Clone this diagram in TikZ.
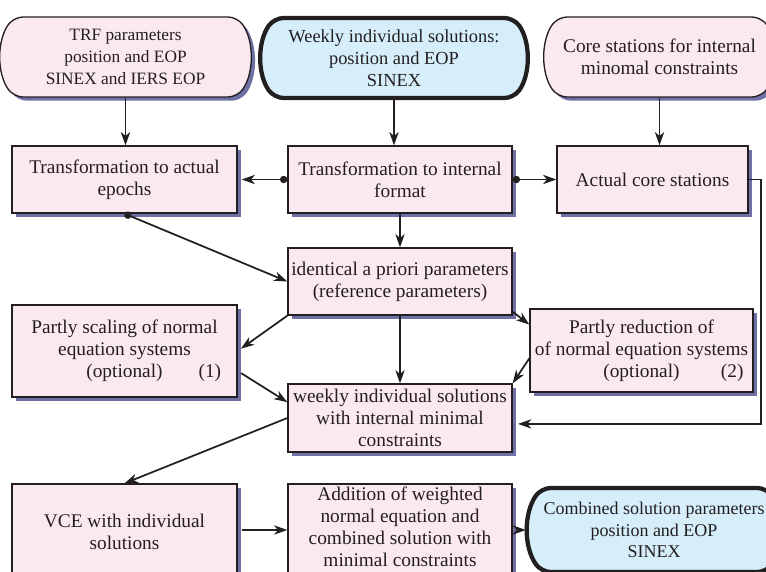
\documentclass[tikz,border=0pt]{standalone}
\usepackage{fontspec}
\setmainfont{Liberation Serif}
\usetikzlibrary{arrows.meta,shapes.misc,shadows,calc}
\definecolor{boxpink}{HTML}{FBE9F1}
\definecolor{boxblue}{HTML}{D5EEF9}
\definecolor{shadowblue}{HTML}{6E70A6}
\definecolor{ink}{HTML}{231F20}

\begin{document}
\begin{tikzpicture}[
      x=.75pt, y=-.75pt,
      line width=1pt,
      process/.style = {
        rectangle, draw=ink, fill=boxpink, text=ink,
        align=center, inner sep=2pt,
        font=\fontsize{14.5pt}{16.6pt}\selectfont,
        drop shadow={shadow xshift=2.8pt, shadow yshift=-2.8pt,
          fill=shadowblue, opacity=1},
      },
      terminal/.style = {
        rounded rectangle, rounded rectangle arc length=70, rounded corners=7pt,
        draw=ink, fill=boxpink, text=ink,
        align=center, inner xsep=-9pt, inner ysep=2pt,
        drop shadow={shadow xshift=2.8pt, shadow yshift=-2.8pt,
          fill=shadowblue, opacity=1},
      },
      result/.style = {
        rounded rectangle, rounded rectangle arc length=70, rounded corners=7pt,
        draw=ink, fill=boxblue, text=ink, line width=3.2pt,
        align=center, inner xsep=-9pt, inner ysep=2pt,
      },
      flow/.style = {
        ink, line width=1.3pt, -{Stealth[length=10pt,width=7pt,inset=3pt]},
      },
      dotflow/.style = {
        flow, {Circle[length=5.5pt]}-{Stealth[length=10pt,width=7pt,inset=3pt]},
      },
    ]
    \clip (0,0) rectangle (766,571);
    % inputs
    \node[terminal, minimum width=168.75pt, minimum height=60pt,
      font=\fontsize{13pt}{16.3pt}\selectfont] (TRF) at (125.5,57)
      {TRF parameters\\position and EOP\\SINEX and IERS EOP};
    \node[result, minimum width=180.75pt, minimum height=60pt,
      font=\fontsize{13.8pt}{16.3pt}\selectfont] (Weekly) at (394,58)
      {Weekly individual solutions:\\position and EOP\\SINEX};
    \node[terminal, minimum width=153.75pt, minimum height=60pt,
      font=\fontsize{14.5pt}{16.3pt}\selectfont] (Core) at (659.5,57)
      {Core stations for internal\\minomal constraints};
    % preparation
    \node[process, minimum width=168.75pt, minimum height=50.25pt] (ToEpochs) at (124.5,179.5)
      {Transformation to actual\\epochs};
    \node[process, minimum width=168pt, minimum height=50.25pt] (ToFormat) at (400,179.5)
      {Transformation to internal\\format};
    \node[process, minimum width=143.25pt, minimum height=50.25pt] (ActualCore) at (652.5,179.5)
      {Actual core stations};
    \node[process, minimum width=168pt, minimum height=50.25pt] (Apriori) at (400,281.5)
      {identical a priori parameters\\(reference parameters)};
    \node[process, minimum width=168.75pt, minimum height=69pt] (Scaling) at (124.5,351)
      {Partly scaling of normal\\equation systems\\(optional)\rlap{\hspace{27pt}(1)}};
    \node[process, minimum width=167.25pt, minimum height=62.25pt] (Reduction) at (641.5,350.5)
      {Partly reduction of\\of normal equation systems\\(optional)\rlap{\hspace{31pt}(2)}};
    \node[process, minimum width=168pt, minimum height=51pt] (WeeklyMC) at (400,418)
      {weekly individual solutions\\with internal minimal\\constraints};
    % combination
    \node[process, minimum width=168.75pt, minimum height=72pt] (VCE) at (124.5,532)
      {VCE with individual\\solutions};
    \node[process, minimum width=168pt, minimum height=72pt, text depth=8pt,
      font=\fontsize{14.5pt}{16.3pt}\selectfont] (Addition) at (400,532)
      {Addition of weighted\\normal equation and\\combined solution with\\minimal constraints};
    \node[result, minimum width=171pt, minimum height=63pt,
      font=\fontsize{13.5pt}{16pt}\selectfont] (Combined) at (654,530)
      {Combined solution parameters\\position and EOP\\SINEX};

    \draw[flow] (TRF.south) -- (TRF.south |- ToEpochs.north);
    \draw[flow] (Weekly.south) -- (Weekly.south |- ToFormat.north);
    \draw[flow] (Core.south) -- (Core.south |- ActualCore.north);
    \draw[dotflow, shorten >=3pt] (ToFormat.west) -- (ToEpochs.east);
    \draw[dotflow] (ToFormat.east) -- (ActualCore.west);
    \draw[dotflow] (ToEpochs.south) -- (Apriori.west);
    \draw[flow] (ToFormat) -- (Apriori);
    \draw[flow, shorten >=3pt] (Apriori.south west) -- (Scaling.east);
    \draw[flow] (Apriori.-15) -- (Reduction.167);
    \draw[flow] (Apriori) -- (WeeklyMC);
    \draw[flow, shorten <=3pt] (Scaling.-10) -- (WeeklyMC.172);
    \draw[flow] (Reduction.184) -- (WeeklyMC.north east);
    \draw[flow, shorten >=4pt] (ActualCore.east) -- ++(12,0) |- (WeeklyMC.-3);
    \draw[flow] (WeeklyMC.west) -- (VCE.north);
    \draw[flow, shorten <=3pt] (VCE.east |- Combined) -- (Addition.west |- Combined);
    \draw[flow, shorten <=3pt] (Addition.east |- Combined) -- (Combined);
  \end{tikzpicture}
\end{document}
